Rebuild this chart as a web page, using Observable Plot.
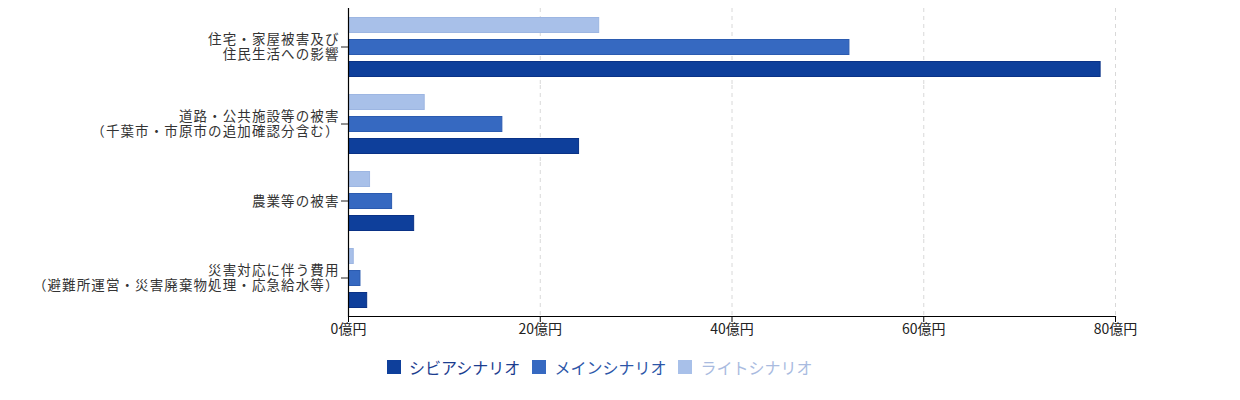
<!DOCTYPE html>
<html>
<head>
<meta charset="utf-8">
<script src="https://cdn.jsdelivr.net/npm/d3@7"></script>
<script src="https://cdn.jsdelivr.net/npm/@observablehq/plot@0.6"></script>
<style>
  body { margin: 0; background: #fff; font-family: "Noto Sans CJK JP", "Noto Sans", sans-serif; }
  #legend { display: flex; gap: 12px; margin-left: 387px; margin-top: 9px; font-size: 16px; align-items: center; }
  #legend .item { display: flex; align-items: center; gap: 8px; }
  #legend .sw { width: 14px; height: 14px; display: inline-block; }
</style>
</head>
<body>
<div id="chart"></div>
<div id="legend"></div>
<script>
const categories = [
  "住宅・家屋被害及び\n住民生活への影響",
  "道路・公共施設等の被害\n（千葉市・市原市の追加確認分含む）",
  "農業等の被害",
  "災害対応に伴う費用\n（避難所運営・災害廃棄物処理・応急給水等）"
];
const series = ["シビアシナリオ", "メインシナリオ", "ライトシナリオ"];
const severe = [78.5, 24.1, 6.9, 2.0];
const mainS = [52.3, 16.1, 4.6, 1.3];
const lightS = [26.2, 8.0, 2.3, 0.6];
const colors = ["#0e3f9b", "#3669c1", "#a8c0e9"];
const strokes = ["#0a3286", "#2b5bb0", "#9db6e2"];
const textColors = ["#1b3d8f", "#2c56a8", "#a9bbdf"];
const xTicks = [0, 20, 40, 60, 80];

const values = [severe, mainS, lightS];
const data = [];
categories.forEach((c, i) => {
  series.forEach((s, j) => data.push({category: c, series: s, value: values[j][i]}));
});

const chart = Plot.plot({
  width: 1240,
  height: 346,
  marginLeft: 348,
  marginRight: 125,
  marginTop: 7,
  marginBottom: 30,
  style: {fontFamily: "'Noto Sans CJK JP', sans-serif", color: "#222", background: "#fff"},
  x: {domain: [0, 80]},
  y: {domain: series.slice().reverse(), axis: null, paddingInner: 0.29, paddingOuter: 0.36},
  fy: {domain: categories, padding: 0, axis: null},
  color: {domain: series, range: colors},
  marks: [
    Plot.gridX(xTicks.slice(1), {stroke: "#d8d8d8", strokeOpacity: 1, strokeDasharray: "4,4"}),
    Plot.barX(data, {x: "value", y: "series", fy: "category", fill: "series",
      stroke: d => strokes[series.indexOf(d.series)], strokeWidth: 1, inset: 0.5}),
    Plot.ruleX([0], {stroke: "#000", strokeWidth: 1.2}),
    Plot.frame({anchor: "bottom", facetAnchor: "bottom", stroke: "#000", strokeWidth: 1.2}),
    Plot.axisX({ticks: xTicks, tickFormat: d => d + "億円", fontSize: 14, tickSize: 6, tickPadding: 2, label: null, stroke: "#000", fill: "#222"}),
    Plot.axisFy({anchor: "left", label: null, fontSize: 13.5, lineHeight: 1.12, tickSize: 7, tickPadding: 2, fill: "#333"})
  ]
});
d3.select(chart).selectAll('g[aria-label="fy-axis tick label"] text').attr("letter-spacing", "1.1px");
document.getElementById("chart").appendChild(chart);

const legend = document.getElementById("legend");
series.forEach((s, i) => {
  const it = document.createElement("div");
  it.className = "item";
  it.innerHTML = `<span class="sw" style="background:${colors[i]}"></span><span style="color:${textColors[i]}">${s}</span>`;
  legend.appendChild(it);
});
</script>
</body>
</html>
